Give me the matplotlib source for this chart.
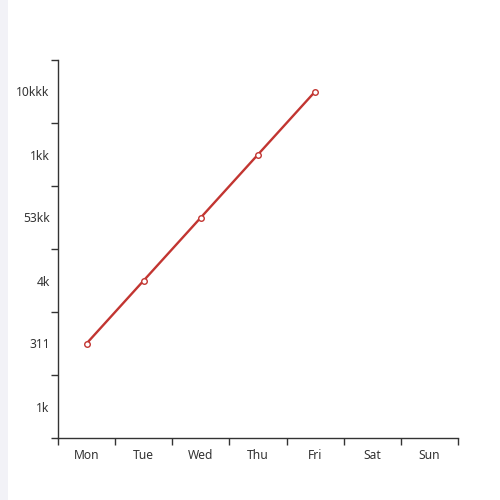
import matplotlib
matplotlib.use("Agg")
import matplotlib.pyplot as plt
from matplotlib.patches import Rectangle
import numpy as np

days = ['Mon', 'Tue', 'Wed', 'Thu', 'Fri', 'Sat', 'Sun']
y_cats = ['1k', '311', '4k', '53kk', '1kk', '10kkk']
values = ['311', '4k', '53kk', '1kk', '10kkk']

plt.rcParams['font.family'] = ['Noto Sans', 'DejaVu Sans']

fig = plt.figure(figsize=(5, 5), dpi=100)
# light strip on the left edge
fig.patches.append(Rectangle((0, 0), 0.016, 1, transform=fig.transFigure,
                             facecolor='#f2f2f7', edgecolor='none', zorder=0))
ax = fig.add_axes([0.116, 0.124, 0.8, 0.756])

xs = np.arange(len(values))
ys = [y_cats.index(v) for v in values]
ax.plot(xs, ys, color='#c23531', lw=1.7, marker='o', ms=4,
        mfc='white', mec='#c23531', mew=1, zorder=3)

ax.set_xlim(-0.5, len(days) - 0.5)
ax.set_ylim(-0.5, len(y_cats) - 0.5)

ax.set_xticks(np.arange(len(days)))
ax.set_xticklabels(days)
ax.set_xticks(np.arange(len(days) + 1) - 0.5, minor=True)
ax.set_yticks(np.arange(len(y_cats)))
ax.set_yticklabels(y_cats)
ax.set_yticks(np.arange(len(y_cats) + 1) - 0.5, minor=True)

ax.tick_params(which='major', length=0, labelsize=8.7, labelcolor='#333333')
ax.tick_params(axis='x', which='major', pad=8)
ax.tick_params(axis='y', which='major', pad=6)
ax.tick_params(which='minor', length=5, width=1, color='#333333')

for s in ['top', 'right']:
    ax.spines[s].set_visible(False)
for s in ['left', 'bottom']:
    ax.spines[s].set_color('#333333')
    ax.spines[s].set_linewidth(1)

fig.savefig('out.png', dpi=100)
